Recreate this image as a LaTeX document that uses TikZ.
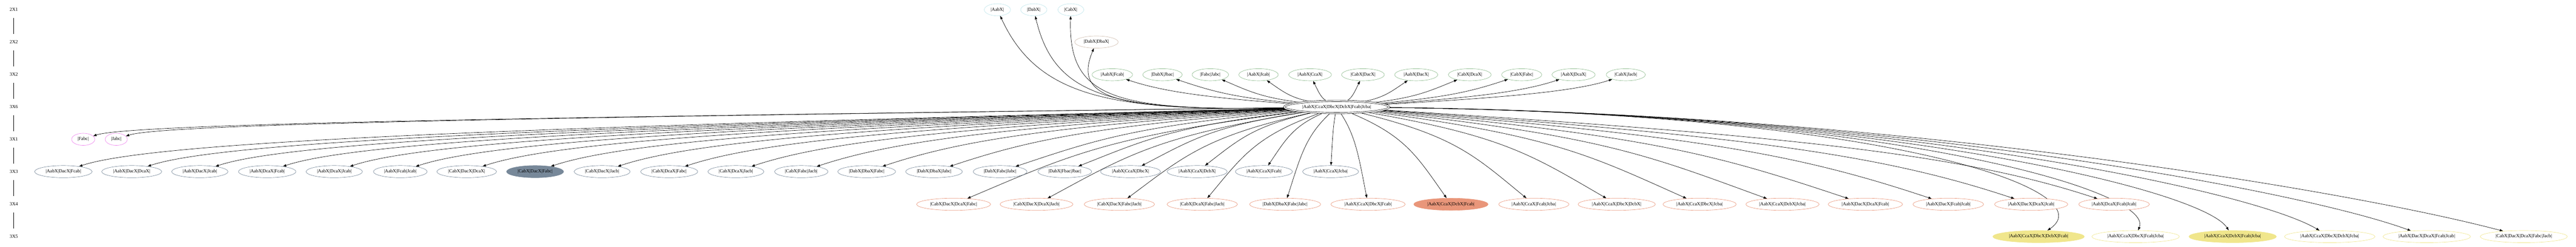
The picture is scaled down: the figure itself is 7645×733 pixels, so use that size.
\documentclass[tikz,border=0pt]{standalone}
\usepackage{fontspec}
\setmainfont{Liberation Serif}
\usetikzlibrary{shapes.geometric,arrows.meta,calc}

\definecolor{gvcyan}{HTML}{BFE6EC}
\definecolor{gvtan}{HTML}{D1BFB1}
\definecolor{gvgreen}{HTML}{8FBC8F}
\definecolor{gvviolet}{HTML}{EE82EE}
\definecolor{gvslate}{HTML}{778899}
\definecolor{gvsalmon}{HTML}{E9967A}
\definecolor{gvkhaki}{HTML}{F0E68C}

\pgfdeclarelayer{back}
\pgfsetlayers{back,main}

\tikzset{
  item/.style={ellipse, draw=#1, fill=white, line width=1pt,
    font=\fontsize{14}{16}\selectfont, inner xsep=8pt, inner ysep=4pt,
    minimum height=36pt, minimum width=54pt},
  rowlabel/.style={font=\fontsize{14}{16}\selectfont, minimum height=48pt, inner sep=0pt},
  level/.style={line width=1pt},
  edge/.style={line width=1pt, -{Triangle[length=10pt,width=7pt]}},
}

\begin{document}
\begin{tikzpicture}[x=1pt,y=1pt]

    \useasboundingbox (0,0) rectangle (7645,-733);

    % Levels
    \foreach \i/\lab in {1/2X1, 2/2X2, 3/3X2, 4/3X6, 5/3X1, 6/3X3, 7/3X4, 8/3X5}
        \node[rowlabel] (l\i) at (41,{-29-96.3*(\i-1)}) {\lab};
    \foreach \i/\j in {1/2, 2/3, 3/4, 4/5, 5/6, 6/7, 7/8}
        \draw[level] (l\i) -- (l\j);

    % 2X1 and 2X2
    \foreach \i/\pos/\lab in {1/2960/{|AabX|}, 2/3068/{|DabX|}, 3/3178/{|CabX|}}
        \node[item=gvcyan] (u\i) at (\pos,-29) {\lab};
    \node[item=gvtan] (w1) at (3254,-125) {|DabX|DbaX|};

    % 3X2
    \foreach \i/\pos/\lab in {1/3301/{|AabX|Fcab|}, 2/3450/{|DabX|Jbac|}, 3/3592/{|Fabc|Jabc|},
        4/3735/{|AabX|Jcab|}, 5/3888/{|AabX|CcaX|}, 6/4045/{|CabX|DacX|}, 7/4203/{|AabX|DacX|},
        8/4362/{|CabX|DcaX|}, 9/4516/{|CabX|Fabc|}, 10/4670/{|AabX|DcaX|}, 11/4825/{|CabX|Jacb|}}
        \node[item=gvgreen] (p\i) at (\pos,-222) {\lab};

    % 3X6
    \node[item=black, double, double distance=3pt, outer sep=2.5pt] (hub) at (3967,-318)
        {|AabX|CcaX|DbcX|DcbX|Fcab|Jcba|};

    % 3X1
    \node[item=gvviolet] (s1) at (247,-414) {|Fabc|};
    \node[item=gvviolet] (s2) at (345,-414) {|Jabc|};

    % 3X3
    \foreach \i/\pos/\fc/\lab in {1/188/white/{|AabX|DacX|Fcab|}, 2/391/white/{|AabX|DacX|DcaX|},
        3/593/white/{|AabX|DacX|Jcab|}, 4/793/white/{|AabX|DcaX|Fcab|}, 5/992/white/{|AabX|DcaX|Jcab|},
        6/1188/white/{|AabX|Fcab|Jcab|}, 7/1385/white/{|CabX|DacX|DcaX|}, 8/1588/gvslate/{|CabX|DacX|Fabc|},
        9/1787/white/{|CabX|DacX|Jacb|}, 10/1986/white/{|CabX|DcaX|Fabc|}, 11/2184/white/{|CabX|DcaX|Jacb|},
        12/2378/white/{|CabX|Fabc|Jacb|}, 13/2572/white/{|DabX|DbaX|Fabc|}, 14/2772/white/{|DabX|DbaX|Jabc|},
        15/2968/white/{|DabX|Fabc|Jabc|}, 16/3160/white/{|DabX|Fbac|Jbac|}, 17/3355/white/{|AabX|CcaX|DbcX|},
        18/3553/white/{|AabX|CcaX|DcbX|}, 19/3751/white/{|AabX|CcaX|Fcab|}, 20/3949/white/{|AabX|CcaX|Jcba|}}
        \node[item=gvslate, fill=\fc] (q\i) at (\pos,-510) {\lab};

    % 3X4
    \foreach \i/\pos/\fc/\lab in {1/2830/white/{|CabX|DacX|DcaX|Fabc|}, 2/3076/white/{|CabX|DacX|DcaX|Jacb|},
        3/3322/white/{|CabX|DacX|Fabc|Jacb|}, 4/3568/white/{|CabX|DcaX|Fabc|Jacb|},
        5/3814/white/{|DabX|DbaX|Fabc|Jabc|}, 6/4060/white/{|AabX|CcaX|DbcX|Fcab|},
        7/4306/gvsalmon/{|AabX|CcaX|DcbX|Fcab|}, 8/4552/white/{|AabX|CcaX|Fcab|Jcba|},
        9/4798/white/{|AabX|CcaX|DbcX|DcbX|}, 10/5044/white/{|AabX|CcaX|DbcX|Jcba|},
        11/5290/white/{|AabX|CcaX|DcbX|Jcba|}, 12/5536/white/{|AabX|DacX|DcaX|Fcab|},
        13/5782/white/{|AabX|DacX|Fcab|Jcab|}, 14/6028/white/{|AabX|DacX|DcaX|Jcab|},
        15/6274/white/{|AabX|DcaX|Fcab|Jcab|}}
        \node[item=gvsalmon, fill=\fc] (f\i) at (\pos,-607) {\lab};

    % 3X5
    \foreach \i/\pos/\fc/\lab in {1/6050/gvkhaki/{|AabX|CcaX|DbcX|DcbX|Fcab|},
        2/6338/white/{|AabX|CcaX|DbcX|Fcab|Jcba|}, 3/6626/gvkhaki/{|AabX|CcaX|DcbX|Fcab|Jcba|},
        4/6914/white/{|AabX|CcaX|DbcX|DcbX|Jcba|}, 5/7202/white/{|AabX|DacX|DcaX|Fcab|Jcab|},
        6/7490/white/{|CabX|DacX|DcaX|Fabc|Jacb|}}
        \node[item=gvkhaki, fill=\fc] (v\i) at (\pos,-703) {\lab};

    % Edges
    \begin{pgfonlayer}{back}
    \foreach \nm/\vx in {u1/3080, u2/3130, u3/3170, w1/3185}
        \draw[edge] (hub) .. controls (3300,-330) and (\vx,-290) .. (\nm);
    \foreach \r/\k in {p/11, s/2, q/20, f/15}
        \foreach \i in {1,...,\k}
            \draw[edge] let \p1=(hub.center), \p2=(\r\i.center),
                \n1={sign(\x2-\x1)}, \n2={min(0.3*abs(\x2-\x1),1.5*abs(\y2-\y1))}
            in (hub) .. controls ({\x1+0.6*(\x2-\x1)},{\y1+0.3*(\y2-\y1)})
                and ({\x2-\n1*\n2},{\y1+0.5*(\y2-\y1)}) .. (\r\i);
    \foreach \i/\pos in {1/6050, 2/6338, 3/6626, 4/6914, 5/7202, 6/7490}
        \draw[edge] (hub) .. controls (5600,-335) and ({\pos+0.5*(6450-\pos)},-565) .. (v\i);
    \end{pgfonlayer}

\end{tikzpicture}
\end{document}
